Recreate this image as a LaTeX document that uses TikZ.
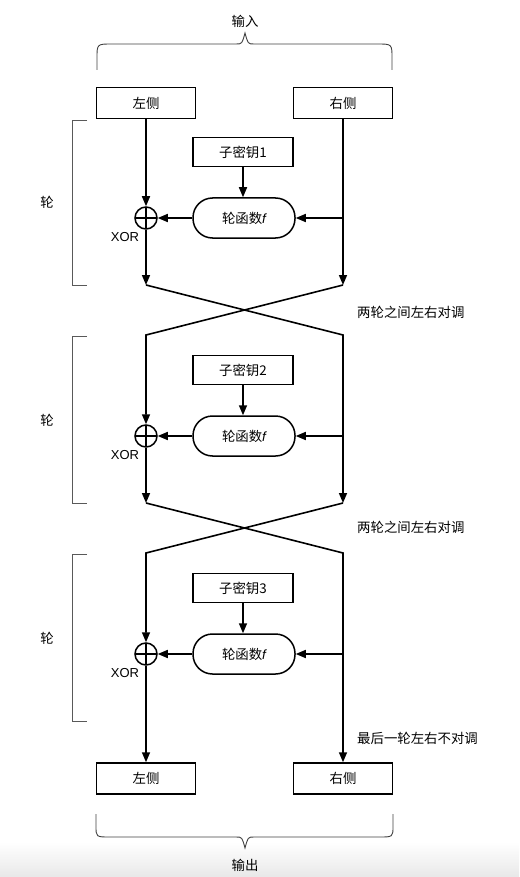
\documentclass[tikz,border=0pt]{standalone}
\usepackage{fontspec}
\setmainfont{Liberation Sans}
\newfontfamily\cjk{Noto Sans CJK SC}
\usetikzlibrary{arrows.meta}
\begin{document}
\begin{tikzpicture}[x=1pt,y=-1pt,
  txt/.style={font=\cjk\fontsize{13.4}{15}\selectfont, inner sep=0pt},
  lat/.style={font=\fontsize{13}{15}\selectfont, inner sep=0pt},
  box/.style={draw, line width=1.5pt, minimum width=99pt, minimum height=31pt, inner sep=0pt, font=\cjk\fontsize{13.4}{15}\selectfont},
  keybox/.style={draw, line width=1.3pt, minimum width=100pt, minimum height=29pt, inner sep=0pt, font=\cjk\fontsize{13.4}{15}\selectfont},
  fbox/.style={draw, line width=1.5pt, rounded corners=19.5pt, minimum width=102pt, minimum height=40pt, inner sep=0pt},
  xor/.style={draw, circle, line width=1.5pt, minimum size=22pt, inner sep=0pt,
    path picture={\draw[line width=1.5pt] (path picture bounding box.north) -- (path picture bounding box.south)
      (path picture bounding box.west) -- (path picture bounding box.east);}},
  flow/.style={line width=1.6pt},
  arr/.style={flow, -{Triangle[length=10pt,width=8pt]}},
  brk/.style={line width=0.9pt, draw=black!65},
  brace/.style={line width=0.9pt, draw=black!75},
]
\useasboundingbox (0,0) rectangle (519,877);
\shade[top color=white, bottom color=black!9] (0,842) rectangle (519,877);

% input
\node[txt] (inlab) at (245,21) {输入};
\draw[brace] (97,70) -- (97,58) .. controls (97,44) .. (112,44) -- (236,44)
  .. controls (242,44) .. (245,33) .. controls (248,44) .. (254,44) -- (377,44)
  .. controls (392,44) .. (392,58) -- (392,70);
\node[box] (inL) at (146,103) {左侧};
\node[box] (inR) at (343,103) {右侧};

% rounds
\foreach \r/\o/\bt in {1/0/120, 2/218/336, 3/436/554}{
  \node[keybox] (k\r) at (243,{152+\o}) {子密钥\r};
  \node[fbox] (f\r) at (244,{218+\o}) {{\cjk\fontsize{13.4}{15}\selectfont 轮函数}{\fontsize{13.4}{15}\selectfont\itshape f}};
  \node[xor] (x\r) at (146,{218+\o}) {};
  \node[lat] (xl\r) at (125,{237+\o}) {XOR};
  \node[txt] (rl\r) at (47,{202+\o}) {轮};
  \coordinate (rb\r) at (343,{218+\o});
  \coordinate (le\r) at (146,{285+\o});
  \coordinate (re\r) at (343,{285+\o});
  \draw[arr] (k\r.south) -- (k\r.south |- f\r.north);
  \draw[arr] (f\r) -- (x\r);
  \draw[arr] (rb\r) -- (f\r);
  \draw[brk] (87,\bt) -- (72,\bt) -- (72,{285+\o}) -- (87,{285+\o});
}
\coordinate (lt2) at (146,335);
\coordinate (rt2) at (343,335);
\coordinate (lt3) at (146,553);
\coordinate (rt3) at (343,553);

% round 1 lines
\draw[arr] (inL) -- (x1);
\draw[flow] (inR) -- (rb1);
\draw[arr] (rb1) -- (re1);
\draw[arr] (x1) -- (le1);
% swap 1
\draw[arr] (re1) -- (lt2) -- (x2);
\draw[flow] (le1) -- (rt2) -- (rb2);
\draw[arr] (rb2) -- (re2);
\draw[arr] (x2) -- (le2);
% swap 2
\draw[arr] (re2) -- (lt3) -- (x3);
\draw[flow] (le2) -- (rt3) -- (rb3);

\node[txt, anchor=west] (sw1) at (357,312) {两轮之间左右对调};
\node[txt, anchor=west] (sw2) at (357,527) {两轮之间左右对调};
\node[txt, anchor=west] (nosw) at (357,738) {最后一轮左右不对调};

% output
\node[box] (outL) at (146,778.5) {左侧};
\node[box] (outR) at (343,778.5) {右侧};
\draw[arr] (x3) -- (outL);
\draw[arr] (rb3) -- (outR);
\draw[brace] (96,814) -- (96,826) .. controls (96,837) .. (110,837) -- (236,837)
  .. controls (242,837) .. (245,848) .. controls (248,837) .. (254,837) -- (379,837)
  .. controls (393,837) .. (393,826) -- (393,814);
\node[txt] (outlab) at (245,865) {输出};
\end{tikzpicture}
\end{document}
